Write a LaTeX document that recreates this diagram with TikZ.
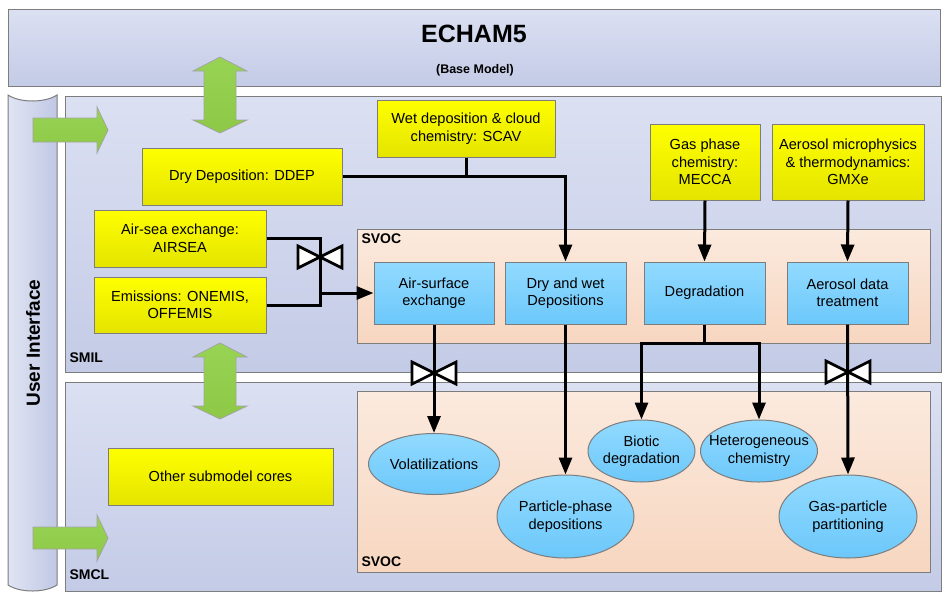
\documentclass[tikz,border=0pt]{standalone}
\usepackage{fontspec}
\setmainfont{Liberation Sans}
\usetikzlibrary{shapes.geometric, arrows.meta, shadings}
\definecolor{panelhi}{RGB}{219,224,242}
\definecolor{panello}{RGB}{196,203,230}
\definecolor{uihi}{RGB}{224,228,243}
\definecolor{uilo}{RGB}{192,200,228}
\definecolor{framegray}{RGB}{125,125,125}
\definecolor{subyellowhi}{RGB}{255,255,0}
\definecolor{subyellowlo}{RGB}{228,228,0}
\definecolor{svochi}{RGB}{251,234,222}
\definecolor{svoclo}{RGB}{247,214,192}
\definecolor{procbluehi}{RGB}{146,218,255}
\definecolor{procbluelo}{RGB}{108,200,250}
\definecolor{flowgreen}{RGB}{141,200,70}
\definecolor{flowgreenhi}{RGB}{152,212,84}
\newcommand{\boxfont}{\fontsize{14.6}{17.5}\selectfont}
\newcommand{\tagfont}{\fontsize{14}{16}\selectfont\bfseries}

\begin{document}
\begin{tikzpicture}[
    x=1pt, y=-1pt,
    panel/.style={rectangle, draw=framegray, top color=panelhi, bottom color=panello, line width=1pt, inner sep=0pt},
    svoc/.style={rectangle, draw=framegray, top color=svochi, bottom color=svoclo, line width=1pt, inner sep=0pt},
    submodel/.style={rectangle, draw=framegray, top color=subyellowhi, bottom color=subyellowlo, line width=1pt, align=center, font=\boxfont, inner sep=1pt},
    process/.style={rectangle, draw=framegray, top color=procbluehi, bottom color=procbluelo, line width=1pt, align=center, font=\boxfont, inner sep=1pt},
    result/.style={ellipse, draw=framegray, top color=procbluehi, bottom color=procbluelo, line width=1pt, inner sep=0pt},
    tag/.style={font=\tagfont, anchor=west},
    link/.style={line width=3pt},
    flow/.style={link, -{Triangle[length=17pt, width=13pt]}},
    bigarrow/.style={draw=framegray!70, top color=flowgreenhi, bottom color=flowgreen, line width=0.8pt},
    valve/.pic={\draw[line width=2.7pt, fill=white] (-22,-11) -- (22,11) -- (22,-11) -- (-22,11) -- cycle;},
]
\useasboundingbox (0,0) rectangle (942,592);

% Base model band
\node[panel, minimum width=932pt, minimum height=77pt] (echam) at (474.5,47.5) {};
\node[font=\fontsize{25}{28}\selectfont\bfseries] (echamtitle) at (474,34) {ECHAM5};
\node[font=\fontsize{12.5}{14}\selectfont\bfseries] (echamsub) at (475,70) {(Base Model)};

% User interface
\path[draw=framegray, left color=uihi, right color=uilo, line width=1pt]
    (8,95) .. controls (20,103) and (45,103) .. (57,95) -- (57,585)
    .. controls (45,593) and (20,593) .. (8,585) -- cycle;
\node[font=\fontsize{19}{22}\selectfont\bfseries, rotate=90] (ui) at (33,343) {User Interface};

% Layers
\node[panel, minimum width=876pt, minimum height=276pt] (smil) at (503,234) {};
\node[panel, minimum width=876pt, minimum height=209pt] (smcl) at (503,486.5) {};
\node[tag] (smiltag) at (66,358) {SMIL};
\node[tag] (smcltag) at (66,575) {SMCL};

% SVOC boxes
\node[svoc, minimum width=573pt, minimum height=114pt] (svocup) at (643.5,286) {};
\node[svoc, minimum width=573pt, minimum height=181pt] (svoclow) at (643.5,481.5) {};
\node[tag] (svocuptag) at (358,239) {SVOC};
\node[tag] (svoclowtag) at (358,562) {SVOC};

% Submodels
\node[submodel, minimum width=178pt, minimum height=57pt] (wet) at (466,128.5) {Wet deposition \& cloud\\chemistry: SCAV};
\node[submodel, minimum width=200pt, minimum height=57pt] (dry) at (242,176.5) {Dry Deposition: DDEP};
\node[submodel, minimum width=172pt, minimum height=57pt] (airsea) at (180,238.5) {Air-sea exchange:\\AIRSEA};
\node[submodel, minimum width=172pt, minimum height=56pt] (emis) at (180,305) {Emissions: ONEMIS,\\OFFEMIS};
\node[submodel, minimum width=110pt, minimum height=76pt] (gas) at (705,162) {Gas phase\\chemistry:\\MECCA};
\node[submodel, minimum width=152pt, minimum height=76pt] (aero) at (848,162) {Aerosol microphysics\\\& thermodynamics:\\GMXe};
\node[submodel, minimum width=225pt, minimum height=57pt] (other) at (220.5,476.5) {Other submodel cores};

% SVOC processes
\node[process, minimum width=120pt, minimum height=62pt] (airsurf) at (434,293) {Air-surface\\exchange};
\node[process, minimum width=121pt, minimum height=62pt] (drywet) at (565.5,293) {Dry and wet\\Depositions};
\node[process, minimum width=121pt, minimum height=62pt] (degr) at (704.5,293) {Degradation};
\node[process, minimum width=121pt, minimum height=62pt] (aerodata) at (847.5,293) {Aerosol data\\treatment};

% Results
\node[result, minimum width=131pt, minimum height=61pt, label={[font=\boxfont]center:Volatilizations}] (volat) at (434,464) {};
\node[result, minimum width=137pt, minimum height=83pt, label={[font=\boxfont, align=center]center:Particle-phase\\depositions}] (particle) at (565.5,516.5) {};
\node[result, minimum width=107pt, minimum height=62pt, label={[font=\boxfont, align=center]center:Biotic\\degradation}] (biotic) at (641.5,451) {};
\node[result, minimum width=117pt, minimum height=62pt, label={[font=\boxfont, align=center]center:Heterogeneous\\chemistry}] (hetero) at (759,451) {};
\node[result, minimum width=138pt, minimum height=83pt, label={[font=\boxfont, align=center]center:Gas-particle\\partitioning}] (gaspart) at (848,516.5) {};

% Connectors
\coordinate (bus) at (320,0);
\coordinate (split) at (704.5,343);
\draw[flow] (dry.east) -| (drywet.north);
\draw[link] (wet.south) -- (wet.south |- dry.east);
\draw[link] (airsea.east) -| (emis.east -| bus) -- (emis.east);
\draw[flow] (airsurf.west -| bus) -- (airsurf.west);
\draw[flow] (airsurf.south) -- (volat.north);
\draw[flow] (drywet.south) -- (particle.north);
\draw[flow] (gas.south) -- (degr.north);
\draw[flow] (aero.south) -- (aerodata.north);
\draw[link] (degr.south) -- (split);
\draw[flow] (split) -| (biotic.north);
\draw[flow] (split) -| (hetero.north);
\draw[flow] (aerodata.south) -- (gaspart.north);

% Valves
\pic (v1) at (320,257) {valve};
\pic (v2) at (434,373) {valve};
\pic (v3) at (848,372) {valve};

% Coupling arrows
\draw[bigarrow] (33,118) -- (97,118) -- (97,107) -- (108,130) -- (97,153) -- (97,142) -- (33,142) -- cycle;
\draw[bigarrow] (33,527) -- (97,527) -- (97,515) -- (108,538) -- (97,561) -- (97,549) -- (33,549) -- cycle;
\draw[bigarrow] (220,57) -- (247,71) -- (236,71) -- (236,120) -- (247,120) -- (220,133) -- (193,120) -- (204,120) -- (204,71) -- (193,71) -- cycle;
\draw[bigarrow] (220,343) -- (247,357) -- (236,357) -- (236,406) -- (247,406) -- (220,419) -- (193,406) -- (204,406) -- (204,357) -- (193,357) -- cycle;

\end{tikzpicture}
\end{document}
